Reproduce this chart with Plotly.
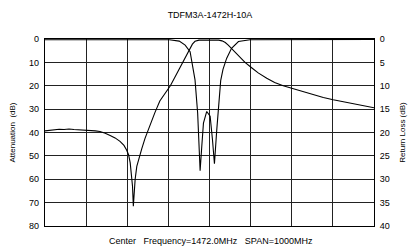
import plotly.graph_objects as go

title_text = "TDFM3A-1472H-10A"
footer_text = "Center&nbsp;&nbsp;&nbsp;Frequency=1472.0MHz&nbsp;&nbsp;&nbsp;SPAN=1000MHz"

# Attenuation (left axis, dB)
att_freq = [972, 985, 1000, 1015, 1030, 1045, 1060, 1078, 1095, 1110, 1125, 1139,
            1155, 1170, 1185, 1200, 1212, 1220, 1226, 1231, 1235, 1238, 1240.5,
            1243, 1246, 1251, 1258, 1266, 1276, 1291, 1306, 1321, 1340, 1353,
            1372, 1391, 1403, 1410, 1420, 1428, 1440, 1458, 1474, 1489, 1500,
            1510, 1520, 1529, 1540, 1555, 1565, 1580, 1600, 1620, 1646, 1670,
            1696, 1725, 1755, 1788, 1818, 1848, 1885, 1919, 1950, 1972]
att_db = [39.3, 39.0, 38.9, 38.6, 38.7, 38.5, 38.7, 38.8, 39.0, 39.1, 39.3, 39.6,
          40.3, 41.3, 42.3, 43.8, 45.5, 47.5, 49.5, 53.0, 58.0, 63.0, 71.5,
          65.0, 60.0, 54.5, 50.5, 47.0, 42.5, 36.8, 31.5, 26.5, 22.5, 20.0,
          15.0, 10.0, 7.0, 5.0, 2.2, 1.0, 0.5, 0.4, 0.35, 0.4, 0.5,
          0.8, 1.5, 2.6, 4.2, 6.3, 7.8, 10.0, 12.3, 14.5, 16.8, 18.6,
          20.0, 21.2, 22.6, 23.9, 25.0, 26.0, 27.1, 28.0, 28.8, 29.4]

# Return loss (right axis, dB)
rl_freq = [972, 1100, 1200, 1300, 1350, 1380, 1398, 1413, 1423, 1428, 1436, 1440,
           1443.5, 1448.5, 1453.6, 1463.6, 1473.9, 1481, 1487, 1494, 1501.3, 1506,
           1513, 1524, 1539, 1560, 1595, 1700, 1850, 1972]
rl_db = [0.15, 0.15, 0.2, 0.2, 0.15, 0.45, 1.3, 2.7, 6.2, 8.75, 15.9, 23.0,
         28.2, 23.0, 18.0, 15.5, 16.5, 21.5, 26.7, 19.5, 12.3, 8.9,
         6.5, 4.15, 2.0, 0.55, 0.15, 0.15, 0.1, 0.1]

att_ticks = [0, 10, 20, 30, 40, 50, 60, 70, 80]
rl_ticks = [0, 5, 10, 15, 20, 25, 30, 35, 40]

font = "Liberation Sans, Arial, sans-serif"

fig = go.Figure()
fig.add_trace(go.Scatter(x=att_freq, y=att_db, mode="lines",
                         line=dict(color="black", width=1.1), yaxis="y"))
fig.add_trace(go.Scatter(x=rl_freq, y=rl_db, mode="lines",
                         line=dict(color="black", width=1.1), yaxis="y2"))

fig.update_layout(
    width=414, height=248,
    margin=dict(l=45, r=40, t=39, b=22),
    paper_bgcolor="white", plot_bgcolor="white",
    showlegend=False,
    font=dict(family=font, size=9, color="black"),
    title=dict(text=title_text, x=0.507, xanchor="center", y=0.94, yanchor="middle",
               font=dict(size=9)),
    xaxis=dict(range=[972, 1972], tick0=972, dtick=125, showticklabels=False,
               showgrid=True, gridcolor="#222", gridwidth=1, zeroline=False,
               showline=True, linecolor="black", linewidth=1.2, mirror=True,
               ticks="", automargin=False),
    yaxis=dict(range=[80, 0], tickvals=att_ticks, showgrid=True, gridcolor="#222",
               gridwidth=1, zeroline=False, showline=True, linecolor="black",
               linewidth=1.2, mirror=True, ticks="outside", ticklen=3,
               tickcolor="white", automargin=False,
               title=dict(text="Attenuation  (dB)", font=dict(size=8), standoff=12),
               tickfont=dict(size=9)),
    yaxis2=dict(range=[40, 0], tickvals=rl_ticks, overlaying="y", side="right",
                showgrid=False, zeroline=False, showline=False, automargin=False,
                ticks="outside", ticklen=3, tickcolor="white",
                title=dict(text="Return Loss (dB)", font=dict(size=8), standoff=10),
                tickfont=dict(size=9)),
    annotations=[dict(text=footer_text, xref="paper", yref="paper", x=0.505,
                      y=-0.045, xanchor="center", yanchor="top", showarrow=False,
                      font=dict(size=9))],
)

fig.write_html("out.html", config={"displayModeBar": False},
               post_script="document.body.style.margin='0';")
